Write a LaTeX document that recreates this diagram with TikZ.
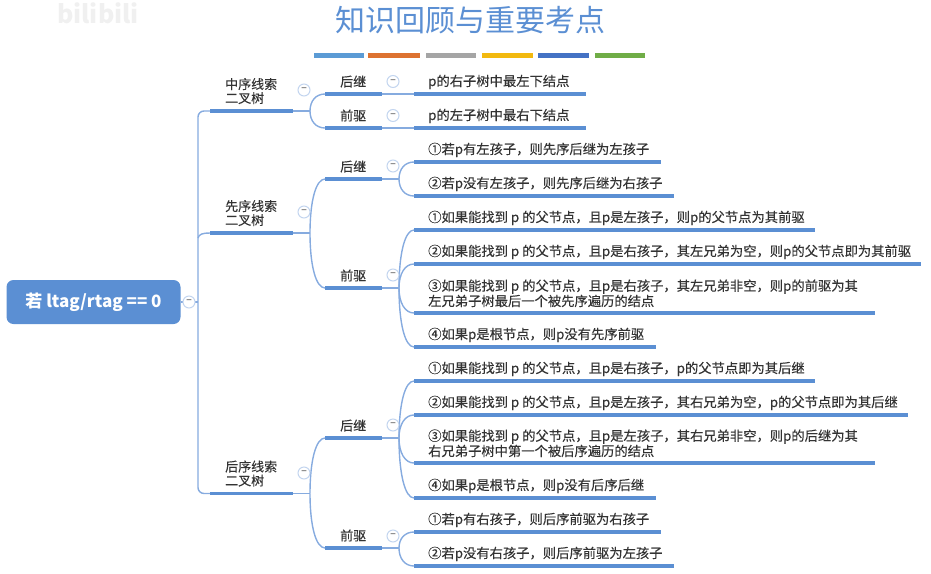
\documentclass[tikz,border=0pt]{standalone}
\usepackage{fontspec}
\setmainfont{Noto Sans CJK SC}
\newfontfamily\bodyf[FakeBold=0.25]{Noto Sans CJK SC}
\usetikzlibrary{calc}
\definecolor{brA}{HTML}{86ABDF}
\definecolor{brB}{HTML}{5B8FD3}
\definecolor{txt}{HTML}{333333}
\tikzset{
  wire/.style={draw=brA,line width=1.4pt},
  ul/.style={draw=brB,line width=3.2pt},
  lab/.style={anchor=base west,inner sep=0pt,text=txt,font=\bodyf\fontsize{13}{14}\selectfont,align=left},
  leaflab/.style={lab,font=\bodyf\fontsize{13.3}{14}\selectfont},
  coll/.style={circle,draw=brA!50,line width=1pt,minimum size=12pt,inner sep=0pt,fill=white,text=black!45,font=\bfseries\fontsize{9}{9}\selectfont},
  bar/.style={line width=4.5pt},
}
\newcommand{\ulline}[4]{\coordinate (#1) at (#3,#2); \coordinate (#1e) at (#4,#2); \draw[ul] (#1) -- (#1e);}
\newcommand{\leafitem}[4]{\ulline{#1}{#2}{414}{#3}\node[leaflab] (#1t) at (428,#2-8) {#4};}
\newcommand{\midlabel}[3]{\ulline{#1}{#2}{325}{382}\node[lab] (#1t) at (340,#2-7.5) {#3};}
\newcommand{\toplabel}[3]{\ulline{#1}{#2}{210}{293}\node[lab] (#1t) at (225,#2-8) {#3};}
\newcommand{\fromto}[2]{\draw[wire] (#1) .. controls ($(#1)!0.6!(#1|-#2)$) and ($(#2)+(-9,0)$) .. (#2);}
\begin{document}
\begin{tikzpicture}[x=1pt,y=-1pt]
\useasboundingbox (0,0) rectangle (931,573);
% watermark
\node[text=black!6,font=\bfseries\fontsize{25}{25}\selectfont,anchor=base west,inner sep=0] (wm) at (57,23) {bilibili};
% title
\node[text=brB,font=\fontsize{30}{30}\selectfont,anchor=center,inner sep=0] (title) at (470,20) {知识回顾与重要考点};
% bars
\foreach \a/\b/\c in {314/364/5B9BD5,368/420/DD7230,426/476/A5A5A5,482/533/F2B90F,538/589/4472C4,595/645/70AD47}{
  \definecolor{bc}{HTML}{\c}\draw[bar,draw=bc] (\a,55.5) -- (\b,55.5);}
% root
\node[fill=brB,rounded corners=7pt,minimum width=174pt,minimum height=44pt,inner sep=0,text=white,font=\bfseries\fontsize{17}{17}\selectfont] (root) at (93.5,302) {若 ltag/rtag == 0};
% junctions
\coordinate (jroot) at (198,302);
\coordinate (jta) at (310,111); \coordinate (jtb) at (310,233); \coordinate (jtc) at (310,493.5);
\coordinate (jmc) at (399,179); \coordinate (jmd) at (399,288); \coordinate (jme) at (399,438); \coordinate (jmf) at (399,548);
% level 1
\toplabel{ta}{111}{中序线索\\二叉树}
\toplabel{tb}{233}{先序线索\\二叉树}
\toplabel{tc}{493.5}{后序线索\\二叉树}
% level 2
\midlabel{ma}{94}{后继}
\midlabel{mb}{128}{前驱}
\midlabel{mc}{179}{后继}
\midlabel{md}{288}{前驱}
\midlabel{me}{438}{后继}
\midlabel{mf}{548}{前驱}
% leaves
\leafitem{la}{94}{586}{p的右子树中最左下结点}
\leafitem{lb}{128}{586}{p的左子树中最右下结点}
\leafitem{lc}{162}{661}{①若p有左孩子，则先序后继为左孩子}
\leafitem{ld}{196}{674}{②若p没有左孩子，则先序后继为右孩子}
\leafitem{le}{230}{815}{①如果能找到 p 的父节点，且p是左孩子，则p的父节点为其前驱}
\leafitem{lf}{264}{921}{②如果能找到 p 的父节点，且p是右孩子，其左兄弟为空，则p的父节点即为其前驱}
\ulline{lg}{313}{414}{875}
\node[leaflab] (lgt) at (428,306) {③如果能找到 p 的父节点，且p是右孩子，其左兄弟非空，则p的前驱为其\\左兄弟子树最后一个被先序遍历的结点};
\leafitem{lh}{347}{656}{④如果p是根节点，则p没有先序前驱}
\leafitem{li}{381}{815}{①如果能找到 p 的父节点，且p是右孩子，p的父节点即为其后继}
\leafitem{lj}{415}{908}{②如果能找到 p 的父节点，且p是左孩子，其右兄弟为空，p的父节点即为其后继}
\ulline{lk}{463}{414}{875}
\node[leaflab] (lkt) at (428,456) {③如果能找到 p 的父节点，且p是左孩子，其右兄弟非空，则p的后继为其\\右兄弟子树中第一个被后序遍历的结点};
\leafitem{ll}{498}{656}{④如果p是根节点，则p没有后序后继}
\leafitem{lm}{532}{661}{①若p有右孩子，则后序前驱为右孩子}
\leafitem{ln}{566}{674}{②若p没有右孩子，则后序前驱为左孩子}
% trunk
\draw[wire] (root.east) -- (jroot);
\draw[wire,rounded corners=6pt] (ta) -- (198,111) -- (198,493.5) -- (tc);
\draw[wire] (198,238) .. controls (199,234) and (203,233) .. (tb);
% level1 to level2
\foreach \t/\j in {ta/jta,tb/jtb,tc/jtc}{\draw[wire] (\t e) -- (\j);}
\fromto{jta}{ma}\fromto{jta}{mb}
\fromto{jtb}{mc}\fromto{jtb}{md}
\fromto{jtc}{me}\fromto{jtc}{mf}
% level2 to leaves
\draw[wire] (mae) -- (la);
\draw[wire] (mbe) -- (lb);
\foreach \t/\j in {mc/jmc,md/jmd,me/jme,mf/jmf}{\draw[wire] (\t e) -- (\j);}
\fromto{jmc}{lc}\fromto{jmc}{ld}
\fromto{jmd}{le}\fromto{jmd}{lf}\fromto{jmd}{lg}\fromto{jmd}{lh}
\fromto{jme}{li}\fromto{jme}{lj}\fromto{jme}{lk}\fromto{jme}{ll}
\fromto{jmf}{lm}\fromto{jmf}{ln}
% collapse buttons
\foreach \n/\x/\y in {c0/189/302,c1/304/90,c2/304/212,c3/304/473,c4/393/81.5,c5/393/115.5,c6/393/166,c7/393/275,c8/393/425,c9/393/536}{
  \node[coll] (\n) at (\x,\y) {−};}
\end{tikzpicture}
\end{document}
